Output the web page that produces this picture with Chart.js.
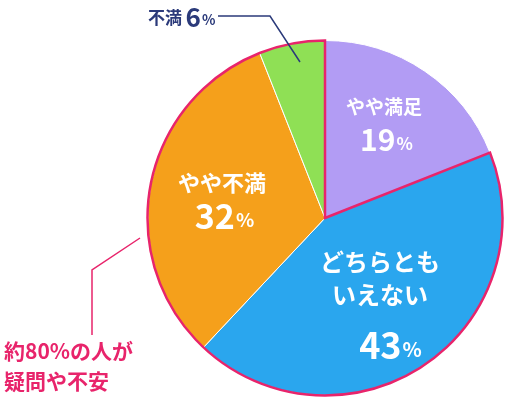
<!DOCTYPE html>
<html lang="ja">
<head>
<meta charset="UTF-8">
<script src="https://cdn.jsdelivr.net/npm/chart.js"></script>
<style>
  body { margin: 0; background: #fff; }
  #wrap { width: 510px; height: 405px; }
</style>
</head>
<body>
<div id="wrap"><canvas id="pie" width="510" height="405"></canvas></div>
<script>
const labels = ['やや満足', 'どちらともいえない', 'やや不満', '不満'];
const values = [19, 43, 32, 6];
const colors = ['#b29cf4', '#2aa6ee', '#f5a01b', '#8fe055'];

const FONT = '"Noto Sans CJK JP", sans-serif';

function pctText(ctx, num, x, y, size, color) {
  ctx.save();
  ctx.fillStyle = color;
  ctx.font = 'bold ' + size + 'px ' + FONT;
  const w1 = ctx.measureText(num).width;
  ctx.font = 'bold ' + Math.round(size * 0.55) + 'px ' + FONT;
  const w2 = ctx.measureText('%').width;
  const sx = x - (w1 + w2) / 2;
  ctx.textAlign = 'left';
  ctx.font = 'bold ' + size + 'px ' + FONT;
  ctx.fillText(num, sx, y);
  ctx.font = 'bold ' + Math.round(size * 0.55) + 'px ' + FONT;
  ctx.fillText('%', sx + w1 + 1, y + size * 0.12);
  ctx.restore();
}

function centerText(ctx, t, x, y, size) {
  ctx.textAlign = 'center';
  ctx.fillStyle = '#fff';
  ctx.font = 'bold ' + size + 'px ' + FONT;
  ctx.fillText(t, x, y);
}

const overlay = {
  id: 'overlay',
  afterDraw(chart) {
    const ctx = chart.ctx;
    const arcs = chart.getDatasetMeta(0).data;
    const a0 = arcs[1], a2 = arcs[3];
    ctx.save();
    ctx.strokeStyle = '#e8246b';
    ctx.lineWidth = 2.5;
    ctx.beginPath();
    ctx.moveTo(a0.x, a0.y);
    ctx.arc(a0.x, a0.y, a0.outerRadius, a0.startAngle, a2.endAngle);
    ctx.closePath();
    ctx.stroke();

    ctx.lineWidth = 1.5;
    ctx.beginPath();
    ctx.moveTo(92, 335); ctx.lineTo(92, 270); ctx.lineTo(140, 238);
    ctx.stroke();
    ctx.strokeStyle = '#2b3a7a';
    ctx.beginPath();
    ctx.moveTo(218, 16); ctx.lineTo(270, 16); ctx.lineTo(300, 62);
    ctx.stroke();

    ctx.textBaseline = 'middle';
    centerText(ctx, 'やや満足', 384, 107, 19);
    pctText(ctx, '19', 386, 140, 30, '#fff');
    centerText(ctx, 'どちらとも', 380, 262, 24);
    centerText(ctx, 'いえない', 380, 295, 24);
    pctText(ctx, '43', 390, 345, 36, '#fff');
    centerText(ctx, 'やや不満', 222, 183, 22);
    pctText(ctx, '32', 224, 216, 34, '#fff');

    ctx.textAlign = 'left';
    ctx.fillStyle = '#2b3a7a';
    ctx.font = 'bold 17px ' + FONT;
    ctx.fillText('不満', 148, 18);
    pctText(ctx, '6', 200, 17, 26, '#2b3a7a');

    ctx.textAlign = 'left';
    ctx.fillStyle = '#e8246b';
    ctx.font = 'bold 21px ' + FONT;
    ctx.fillText('約80%の人が', 4, 351);
    ctx.fillText('疑問や不安', 4, 381);
    ctx.restore();
  }
};

new Chart(document.getElementById('pie'), {
  type: 'pie',
  data: {
    labels: labels,
    datasets: [{
      data: values,
      backgroundColor: colors,
      borderColor: '#ffffff',
      borderWidth: 1
    }]
  },
  options: {
    responsive: false,
    animation: false,
    layout: { padding: { left: 147, right: 7, top: 40, bottom: 9 } },
    plugins: { legend: { display: false }, tooltip: { enabled: false } }
  },
  plugins: [overlay]
});
</script>
</body>
</html>
